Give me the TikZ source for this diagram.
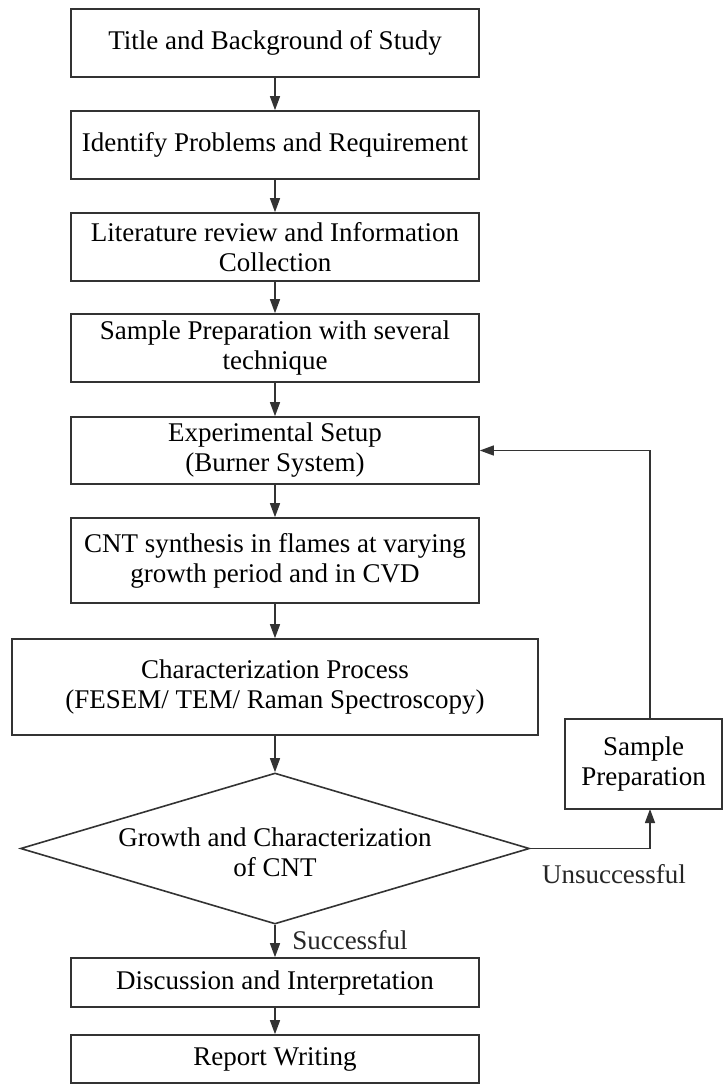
\documentclass[tikz,border=0pt]{standalone}
\usepackage{fontspec}
\setmainfont{Liberation Serif}
\usetikzlibrary{arrows.meta,shapes.geometric}
\begin{document}
\begin{tikzpicture}[x=1pt,y=-1pt,
  every node/.style={font=\fontsize{27}{30}\selectfont},
  box/.style={draw=black!80, line width=1.6pt, minimum width=408pt, inner sep=0pt, align=center},
  flow/.style={draw=black!80, line width=1.4pt, -{Triangle[length=14pt,width=10pt]}},
  lbl/.style={text=black!85}]
\useasboundingbox (0,0) rectangle (723,1084);
\node[box, minimum height=68pt] (b1) at (275,43) {Title and Background of Study};
\node[box, minimum height=68pt] (b2) at (275,145) {Identify Problems and Requirement};
\node[box, minimum height=68pt] (b3) at (275,247) {Literature review and Information\\Collection};
\node[box, minimum height=68pt] (b4) at (275,348) {Sample Preparation with several\\technique};
\node[box, minimum height=67pt] (b5) at (275,450.5) {Experimental Setup\\(Burner System)};
\node[box, minimum height=85pt] (b6) at (275,560.5) {CNT synthesis in flames at varying\\growth period and in CVD};
\node[box, minimum height=96pt, minimum width=526pt] (b7) at (275,687) {Characterization Process\\(FESEM/ TEM/ Raman Spectroscopy)};
\node[diamond, draw=black!80, line width=1.6pt, minimum width=509pt, minimum height=151pt, inner sep=0pt] (dec) at (275,848.5) {};
\node[align=center] (dect) at (275,852) {Growth and Characterization\\of CNT};
\node[box, minimum height=49pt] (b8) at (275,982.5) {Discussion and Interpretation};
\node[box, minimum height=48pt] (b9) at (275,1059) {Report Writing};
\node[box, minimum height=90pt, minimum width=157pt] (sp) at (643.5,764) {Sample\\Preparation};
\coordinate (spb) at (650,809);
\coordinate (spt) at (650,719);
\node[lbl] (uns) at (614,874) {Unsuccessful};
\node[lbl] (suc) at (350,940) {Successful};
\draw[flow] (b1) -- (b2);
\draw[flow] (b2) -- (b3);
\draw[flow] (b3) -- (b4);
\draw[flow] (b4) -- (b5);
\draw[flow] (b5) -- (b6);
\draw[flow] (b6) -- (b7);
\draw[flow] (b7) -- (dec);
\draw[flow] (dec) -- (b8);
\draw[flow] (b8) -- (b9);
\draw[flow] (dec.east) -| (spb);
\draw[flow] (spt) |- (b5.east);
\end{tikzpicture}
\end{document}
